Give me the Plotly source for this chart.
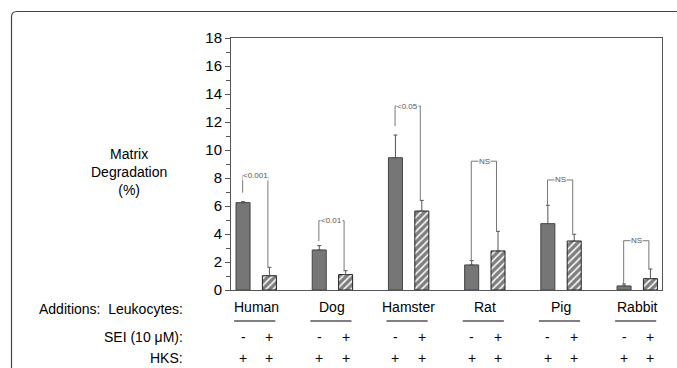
import plotly.graph_objects as go

species = ["Human", "Dog", "Hamster", "Rat", "Pig", "Rabbit"]
ctrl_vals = [6.24, 2.86, 9.45, 1.79, 4.74, 0.29]
ctrl_err = [0.07, 0.31, 1.62, 0.31, 1.31, 0.14]
sei_vals = [1.02, 1.10, 5.64, 2.79, 3.50, 0.81]
sei_err = [0.60, 0.28, 0.76, 1.40, 0.48, 0.69]
sig_labels = ["<0.001", "<0.01", "<0.05", "NS", "NS", "NS"]
bracket_top = [8.2, 4.95, 13.14, 9.2, 7.86, 3.52]
bracket_left_bottom = [6.95, 3.5, 11.7, 2.1, 6.05, 0.43]
bracket_right_bottom = [1.65, 1.38, 6.4, 4.2, 4.0, 1.5]
sei_signs = ["-", "+"]
hks_signs = ["+", "+"]
y_ticks = [0, 2, 4, 6, 8, 10, 12, 14, 16, 18]

OFF = 0.173
BW = 0.184
idx = list(range(len(species)))

fig = go.Figure()
fig.add_trace(go.Bar(
    x=[i - OFF for i in idx], y=ctrl_vals, width=BW,
    marker=dict(color="#767676", line=dict(color="#444444", width=1)),
    error_y=dict(type="data", array=ctrl_err, arrayminus=[0] * 6, symmetric=False,
                 color="#555555", thickness=1, width=2),
    showlegend=False))
fig.add_trace(go.Bar(
    x=[i + OFF for i in idx], y=sei_vals, width=BW,
    marker=dict(color="white", line=dict(color="#222222", width=1),
                pattern=dict(shape="/", fgcolor="#000000", bgcolor="white", size=5, solidity=0.7)),
    error_y=dict(type="data", array=sei_err, arrayminus=[0] * 6, symmetric=False,
                 color="#555555", thickness=1, width=2),
    showlegend=False))

shapes = []
annotations = []
line_style = dict(color="#777777", width=1)
for i in idx:
    xl = i - OFF - 0.005
    xr = i + OFF - 0.02
    shapes.append(dict(type="line", xref="x", yref="y", x0=xl, x1=xl,
                       y0=bracket_left_bottom[i], y1=bracket_top[i], line=line_style))
    shapes.append(dict(type="line", xref="x", yref="y", x0=xr, x1=xr,
                       y0=bracket_right_bottom[i], y1=bracket_top[i], line=line_style))
    shapes.append(dict(type="line", xref="x", yref="y", x0=xl, x1=xr,
                       y0=bracket_top[i], y1=bracket_top[i], line=line_style))
    annotations.append(dict(x=i - 0.01, y=bracket_top[i], xref="x", yref="y", text=sig_labels[i],
                            showarrow=False, font=dict(size=8, color="#555555", family="Arial"),
                            bgcolor="white", borderpad=0, xanchor="center", yanchor="middle"))

PLOT_H = 252.0
def row_shift(py):
    return -(py - 290)

for i in idx:
    annotations.append(dict(x=i, y=0, xref="x", yref="paper", text=species[i], showarrow=False,
                            font=dict(size=14, color="black", family="Arial"),
                            yanchor="middle", yshift=row_shift(307)))
    yu = -(321 - 290) / PLOT_H
    shapes.append(dict(type="line", xref="x", yref="paper", x0=i - 0.29, x1=i + 0.25,
                       y0=yu, y1=yu, line=dict(color="black", width=1)))
    for k, s in enumerate([-OFF, OFF]):
        annotations.append(dict(x=i + s, y=0, xref="x", yref="paper", text=sei_signs[k], showarrow=False,
                                font=dict(size=14, color="black", family="Arial"),
                                yanchor="middle", yshift=row_shift(337)))
        annotations.append(dict(x=i + s, y=0, xref="x", yref="paper", text=hks_signs[k], showarrow=False,
                                font=dict(size=14, color="black", family="Arial"),
                                yanchor="middle", yshift=row_shift(358)))

xr_lab = (185 - 231) / 431.0
for txt, py in [("Additions:  Leukocytes:", 309), ("SEI (10 μM):", 337), ("HKS:", 358)]:
    annotations.append(dict(x=xr_lab, y=0, xref="paper", yref="paper", text=txt, showarrow=False,
                            font=dict(size=14, color="black", family="Arial"),
                            xanchor="right", yanchor="middle", yshift=row_shift(py)))

annotations.append(dict(x=(129 - 231) / 431.0, y=(290 - 172) / PLOT_H, xref="paper", yref="paper",
                        text="Matrix<br>Degradation<br>(%)", showarrow=False, align="center",
                        font=dict(size=14, color="black", family="Arial"),
                        xanchor="center", yanchor="middle"))

# outer frame
shapes.append(dict(type="path", xref="paper", yref="paper",
                   path="M {x0},{y0} L {x0},{y1} Q {x0},{y2} {x3},{y2} L {x4},{y2}".format(
                       x0=(11.5 - 231) / 431.0, y0=(290 - 380) / PLOT_H,
                       y1=(290 - 17) / PLOT_H, y2=(290 - 11.5) / PLOT_H,
                       x3=(17 - 231) / 431.0, x4=(690 - 231) / 431.0),
                   line=dict(color="#444444", width=1.2)))

fig.update_layout(
    width=677, height=368,
    margin=dict(l=231, r=15, t=38, b=78),
    paper_bgcolor="white", plot_bgcolor="white",
    barmode="overlay",
    shapes=shapes, annotations=annotations,
    xaxis=dict(range=[-0.331, 5.325], showticklabels=False, ticks="", showgrid=False, zeroline=False,
               showline=True, linecolor="#555555", linewidth=1, mirror=True),
    yaxis=dict(range=[0, 18], tickvals=y_ticks, ticks="outside", ticklen=5, tickcolor="#555555",
               showgrid=False, zeroline=False, showline=True, linecolor="#555555", linewidth=1,
               mirror=True, tickfont=dict(size=15, color="black", family="Arial"),
               minor=dict(dtick=1, ticks="outside", ticklen=4, tickcolor="#555555")),
)

fig.write_html("out.html", config={"displayModeBar": False},
               post_script="document.body.style.margin='0';document.body.style.overflow='hidden';")
